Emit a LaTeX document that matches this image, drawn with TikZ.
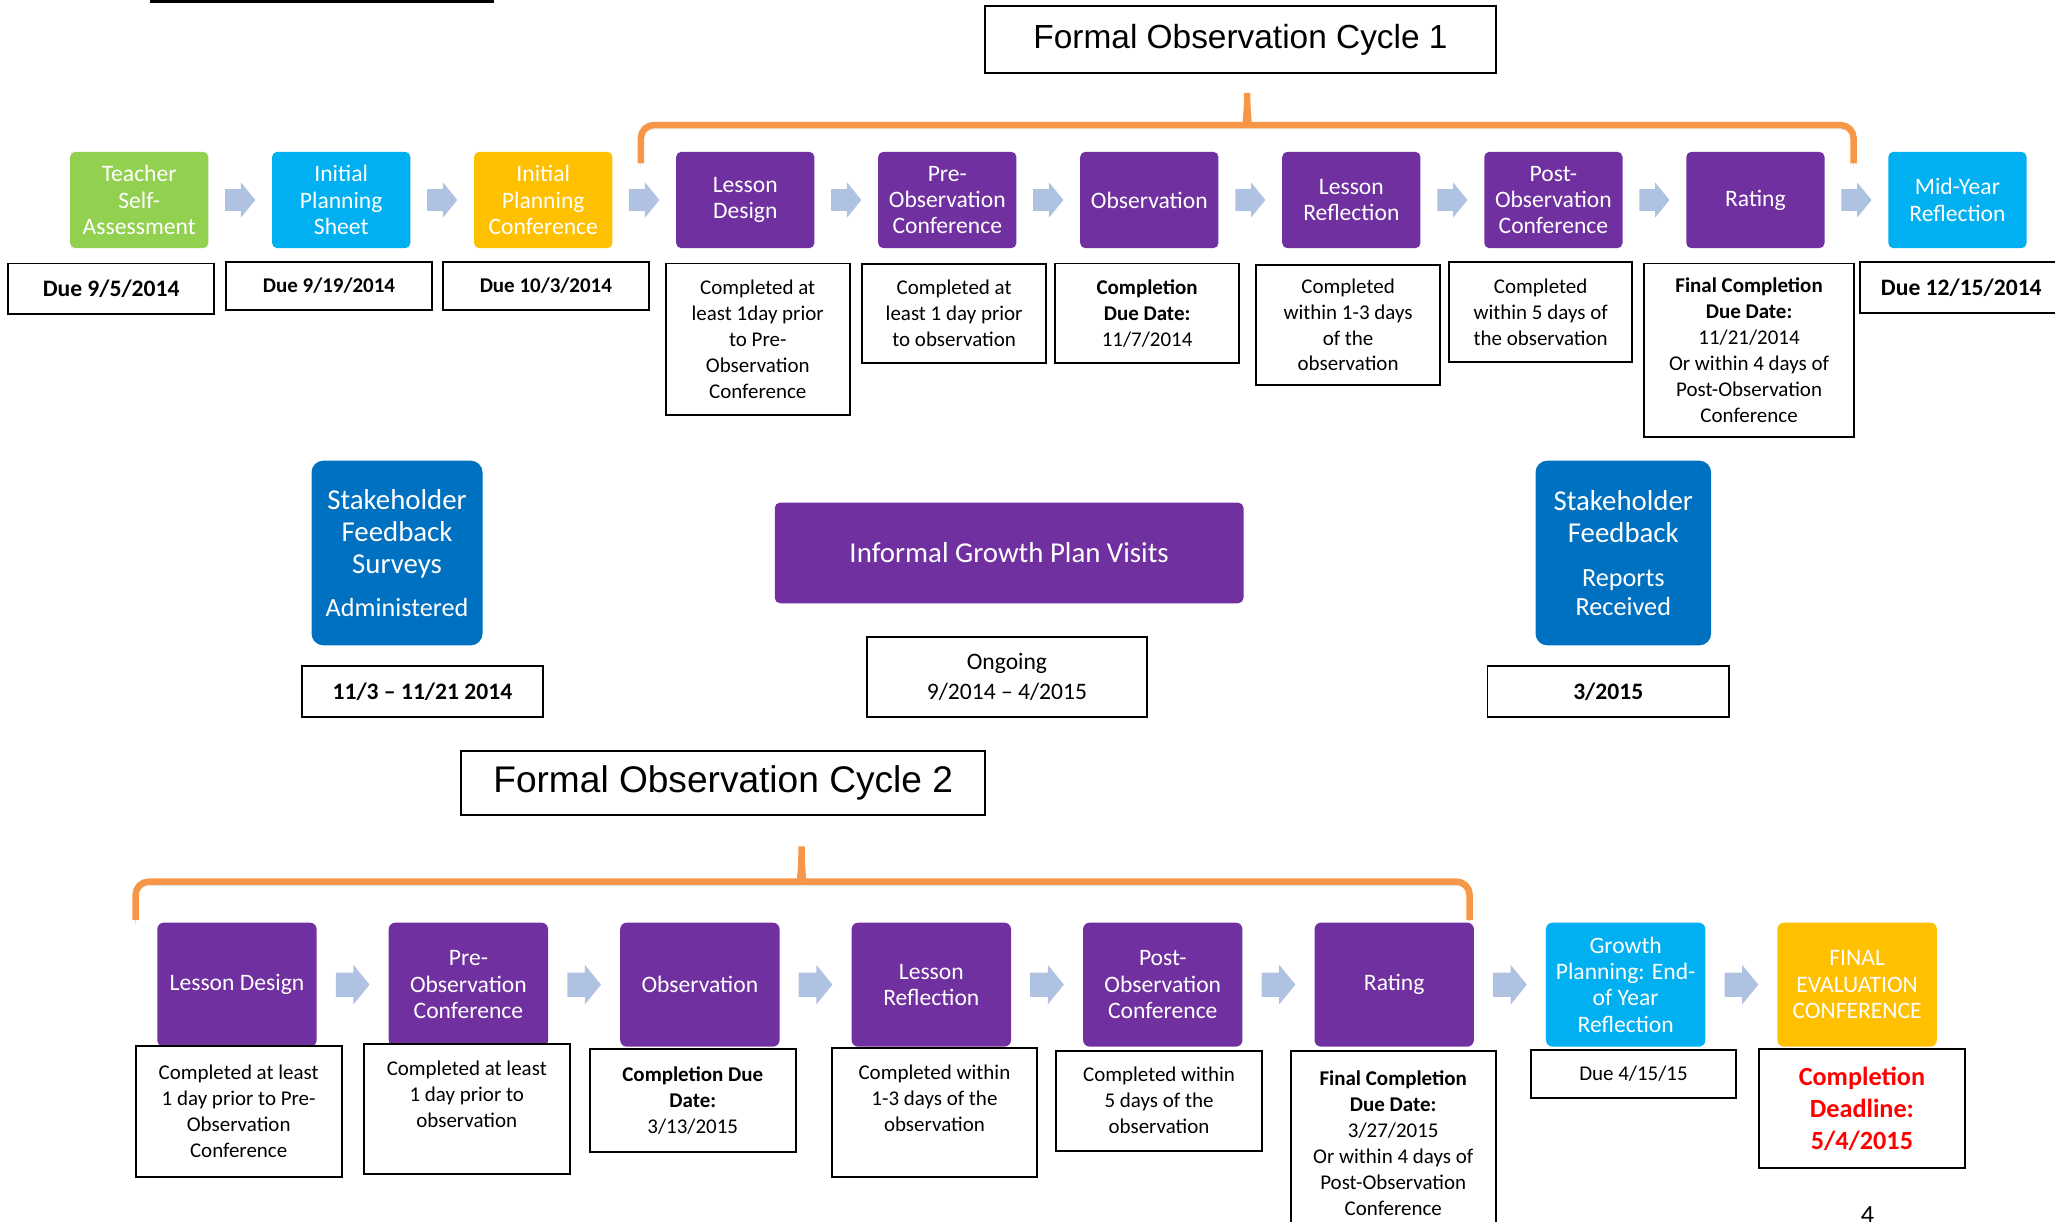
\documentclass[tikz,border=0pt]{standalone}
\usepackage{fontspec}
\setmainfont{Carlito}
\newfontfamily\titlefont{Liberation Sans}
\usetikzlibrary{calc,positioning}
\definecolor{stagegreen}{HTML}{92D050}
\definecolor{stagecyan}{HTML}{00B0F0}
\definecolor{stagegold}{HTML}{FFC000}
\definecolor{stagepurple}{HTML}{7030A0}
\definecolor{feedblue}{HTML}{0070C0}
\definecolor{arrowfill}{RGB}{176,194,226}
\definecolor{braceorange}{HTML}{F79646}

\begin{document}
\begin{tikzpicture}[x=1pt,y=-1pt,
    stage/.style={rounded corners=4pt,minimum width=105.5pt,minimum height=73.6pt,inner sep=0pt,outer sep=0pt,
      text=white,align=center,font=\fontsize{18}{20}\selectfont},
    stagelow/.style={stage,rounded corners=5pt,minimum width=121.6pt,minimum height=94.6pt},
    info/.style={draw=black,line width=1.4pt,fill=white,inner sep=0pt,align=center,
      font=\fontsize{16}{19.8}\selectfont},
    infotext/.style={inner sep=0pt,align=center,font=\fontsize{16}{19.8}\selectfont},
    due/.style={info,font=\bfseries\fontsize{16}{19.8}\selectfont},
    bigdue/.style={info,font=\bfseries\fontsize{18}{22}\selectfont},
    feedback/.style={rounded corners=9pt,fill=feedblue,text=white,inner sep=0pt,align=center,
      font=\fontsize{22}{24.6}\selectfont},
    cycletitle/.style={draw=black,line width=1.4pt,inner sep=0pt,font=\titlefont\fontsize{#1}{#1}\selectfont},
    brace/.style={draw=braceorange,line width=5pt,rounded corners=10pt,
      preaction={draw=black!45,opacity=.35,transform canvas={yshift=-3pt}}},
    flowarrow/.pic={\fill[arrowfill] (-11.5,-8.25) -- (0.5,-8.25) -- (0.5,-13.5) -- (11.5,0)
      -- (0.5,13.5) -- (0.5,8.25) -- (-11.5,8.25) -- cycle;}
  ]
  \useasboundingbox (0,0) rectangle (1568,932);
  \draw[line width=2.4pt] (114.5,1.2) -- (377,1.2);

  % first cycle
  \begin{scope}
    \node[cycletitle=25.5,minimum width=389.9pt,minimum height=51.4pt] (title1) at (946.55,30.3) {Formal Observation Cycle 1};
    \coordinate (L1) at (489,124.7);
    \coordinate (P1) at (951.6,65);
    \coordinate (R1) at (1414.3,124.7);
    \draw[brace] (L1) |- ($(P1)+(-11,30.4)$) .. controls ($(P1)+(-1.5,30.4)$) and ($(P1)+(0,22)$) .. (P1)
      .. controls ($(P1)+(0,22)$) and ($(P1)+(1.5,30.4)$) .. ($(P1)+(11,30.4)$) -| (R1);

    \node[stage,fill=stagegreen] (teacher) at (106.2,152.6) {Teacher\\Self-\\Assessment};
    \node[stage,fill=stagecyan,right=48.65pt of teacher] (planning) {Initial\\Planning\\Sheet};
    \node[stage,fill=stagegold,right=48.65pt of planning] (planconf) {Initial\\Planning\\Conference};
    \node[stage,fill=stagepurple,right=48.65pt of planconf] (design1) {Lesson\\Design};
    \node[stage,fill=stagepurple,right=48.65pt of design1] (preconf1) {Pre-\\Observation\\Conference};
    \node[stage,fill=stagepurple,right=48.65pt of preconf1] (observe1) {Observation};
    \node[stage,fill=stagepurple,right=48.65pt of observe1] (reflect1) {Lesson\\Reflection};
    \node[stage,fill=stagepurple,right=48.65pt of reflect1] (postconf1) {Post-\\Observation\\Conference};
    \node[stage,fill=stagepurple,right=48.65pt of postconf1] (rating1) {Rating};
    \node[stage,fill=stagecyan,right=48.65pt of rating1] (midyear) {Mid-Year\\Reflection};
    \foreach \a/\b in {teacher/planning,planning/planconf,planconf/design1,design1/preconf1,preconf1/observe1,
        observe1/reflect1,reflect1/postconf1,postconf1/rating1,rating1/midyear}
      \pic at ($(\a.east)!.5!(\b.west)$) {flowarrow};

    \node[bigdue,minimum width=157.4pt,minimum height=38.6pt] (teacherdue) at (84.8,220.3) {Due 9/5/2014};
    \node[due,minimum width=156.8pt,minimum height=36.5pt] (planningdue) at (251,218.25) {Due 9/19/2014};
    \node[due,minimum width=157pt,minimum height=36.5pt] (planconfdue) at (416.5,218.25) {Due 10/3/2014};
    \node[info,minimum width=140.3pt,minimum height=115.7pt] (design1due) at (578.15,258.85)
      {Completed at\\least 1day prior\\to Pre-\\Observation\\Conference};
    \node[info,minimum width=140pt,minimum height=75.6pt] (preconf1due) at (728,239.2)
      {Completed at\\least 1 day prior\\to observation};
    \node[info,minimum width=140.5pt,minimum height=76pt] (observe1due) at (875.25,239)
      {\textbf{Completion}\\\textbf{Due Date:}\\11/7/2014};
    \node[info,minimum width=140.2pt,minimum height=91.7pt] (reflect1due) at (1028.6,247.85)
      {Completed\\within 1-3 days\\of the\\observation};
    \node[info,minimum width=139.9pt,minimum height=76pt] (postconf1due) at (1175.55,238)
      {Completed\\within 5 days of\\the observation};
    \node[info,minimum width=160.1pt,minimum height=132.3pt] (rating1due) at (1334.55,267.15)
      {\textbf{Final Completion}\\\textbf{Due Date:}\\11/21/2014\\Or within 4 days of\\Post-Observation\\Conference};
    \node[bigdue,minimum width=155pt,minimum height=39pt] (midyeardue) at (1496.5,219.5) {Due 12/15/2014};
  \end{scope}

  % between the cycles
  \begin{scope}
    \node[feedback,minimum width=130.5pt,minimum height=140.9pt] (surveys) at (302.95,421.95)
      {Stakeholder\\Feedback\\Surveys\\[8pt]\fontsize{20}{24}\selectfont Administered};
    \node[bigdue,minimum width=184pt,minimum height=39.1pt] (surveysdue) at (322.3,527.75) {11/3 – 11/21 2014};
    \node[stage,fill=stagepurple,minimum width=357.6pt,minimum height=76.8pt,font=\fontsize{22}{26}\selectfont]
      (visits) at (770,421.9) {Informal Growth Plan Visits};
    \node[info,font=\fontsize{18}{22.9}\selectfont,minimum width=213.4pt,minimum height=61.5pt] (visitsdue)
      at (768.3,516.55) {Ongoing\\9/2014 – 4/2015};
    \node[feedback,minimum width=134pt,minimum height=140.9pt] (reports) at (1238.6,421.95)
      {Stakeholder\\Feedback\\[9pt]\fontsize{20}{21.6}\selectfont Reports\\[-3pt]\fontsize{20}{21.6}\selectfont Received};
    \node[bigdue,minimum width=184.2pt,minimum height=39.1pt] (reportsdue) at (1227.1,527.75) {3/2015};
  \end{scope}

  % second cycle
  \begin{scope}
    \node[cycletitle=28.3,minimum width=399.6pt,minimum height=49pt] (title2) at (551.8,597.3) {Formal Observation Cycle 2};
    \coordinate (L2) at (103.5,702);
    \coordinate (P2) at (611.6,640);
    \coordinate (R2) at (1121.3,702);
    \draw[brace] (L2) |- ($(P2)+(-11,32.7)$) .. controls ($(P2)+(-1.5,32.7)$) and ($(P2)+(0,24)$) .. (P2)
      .. controls ($(P2)+(0,24)$) and ($(P2)+(1.5,32.7)$) .. ($(P2)+(11,32.7)$) -| (R2);

    \node[stagelow,fill=stagepurple] (design2) at (180.8,751.3) {Lesson Design};
    \node[stagelow,fill=stagepurple,right=55pt of design2] (preconf2) {Pre-\\Observation\\Conference};
    \node[stagelow,fill=stagepurple,right=55pt of preconf2] (observe2) {Observation};
    \node[stagelow,fill=stagepurple,right=55pt of observe2] (reflect2) {Lesson\\Reflection};
    \node[stagelow,fill=stagepurple,right=55pt of reflect2] (postconf2) {Post-\\Observation\\Conference};
    \node[stagelow,fill=stagepurple,right=55pt of postconf2] (rating2) {Rating};
    \node[stagelow,fill=stagecyan,right=55pt of rating2] (growth) {Growth\\Planning: End-\\of Year\\Reflection};
    \node[stagelow,fill=stagegold,right=55pt of growth] (final) {FINAL\\EVALUATION\\CONFERENCE};
    \foreach \a/\b in {design2/preconf2,preconf2/observe2,observe2/reflect2,reflect2/postconf2,
        postconf2/rating2,rating2/growth,growth/final}
      \pic[scale=1.12] at ($(\a.east)!.5!(\b.west)$) {flowarrow};

    \node[info,minimum width=157.2pt,minimum height=99.8pt] (design2due) at (182.1,847.9)
      {Completed at least\\1 day prior to Pre-\\Observation\\Conference};
    \node[info,minimum width=156.9pt,minimum height=99pt] (preconf2due) at (356.15,846.3) {};
    \node[infotext,below=13pt of preconf2due.north] (preconf2text) {Completed at least\\1 day prior to\\observation};
    \node[info,minimum width=157.2pt,minimum height=78.3pt] (observe2due) at (528.6,839.85)
      {\textbf{Completion Due}\\\textbf{Date:}\\3/13/2015};
    \node[info,minimum width=156.4pt,minimum height=97.9pt] (reflect2due) at (713,848.85) {};
    \node[infotext,below=13pt of reflect2due.north] (reflect2text) {Completed within\\1-3 days of the\\observation};
    \node[info,minimum width=157.7pt,minimum height=76.2pt] (postconf2due) at (884.35,839.8)
      {Completed within\\5 days of the\\observation};
    \node[info,minimum width=156.5pt,minimum height=140.6pt] (rating2due) at (1063.05,872)
      {\textbf{Final Completion}\\\textbf{Due Date:}\\3/27/2015\\Or within 4 days of\\Post-Observation\\Conference};
    \node[info,minimum width=156.5pt,minimum height=36.4pt] (growthdue) at (1246.35,819.4) {Due 4/15/15};
    \node[info,text=red,font=\bfseries\fontsize{20}{24.5}\selectfont,minimum width=157.1pt,minimum height=90.8pt]
      (finaldue) at (1420.65,846.1) {Completion\\Deadline:\\5/4/2015};
  \end{scope}

  \node[font=\fontsize{20}{24}\selectfont,anchor=north,inner sep=0pt] (pagenum) at (1425,920.5) {4};
\end{tikzpicture}
\end{document}
